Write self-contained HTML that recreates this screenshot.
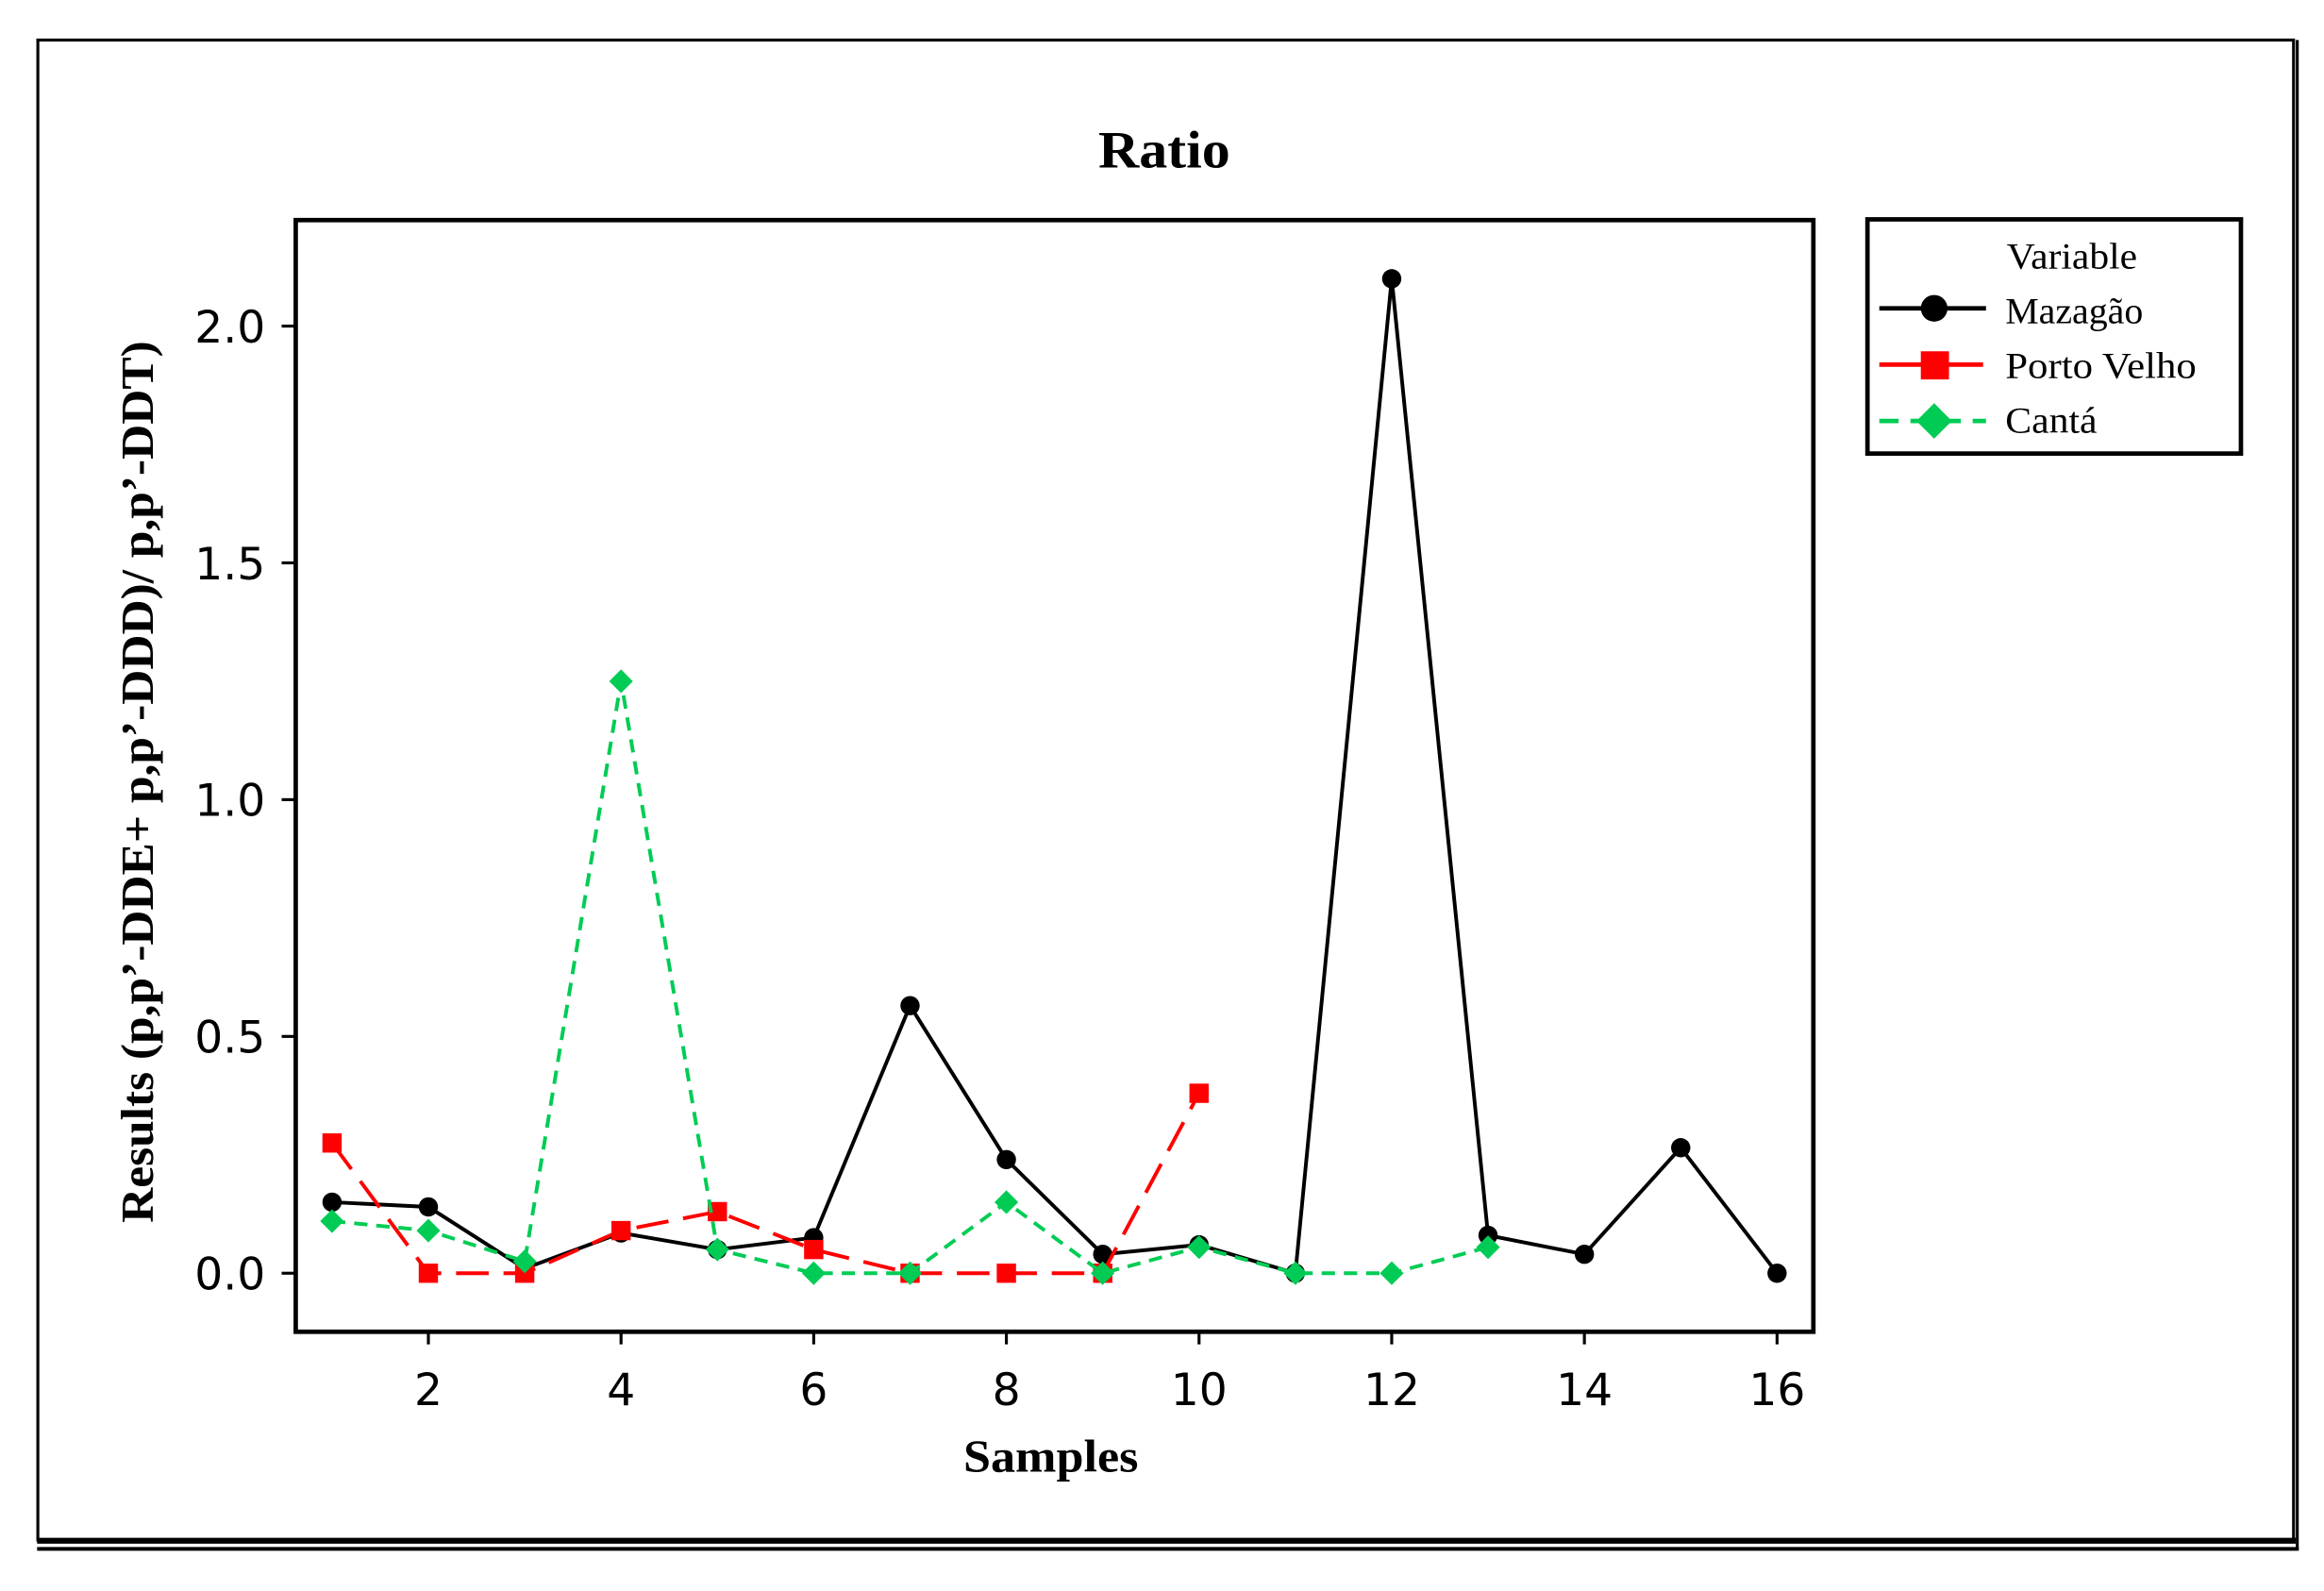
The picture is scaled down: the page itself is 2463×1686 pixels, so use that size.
<!DOCTYPE html>
<html><head><meta charset="utf-8"><style>
html,body{margin:0;padding:0;background:#fff;}
svg{display:block;}
</style></head><body>
<svg id="chart" width="2463" height="1686" viewBox="0 0 1568 1073.4" xmlns="http://www.w3.org/2000/svg">
<rect x="0" y="0" width="1568" height="1074" fill="#fff"/>
<rect x="25.5" y="27" width="1522" height="1012" fill="none" stroke="#000" stroke-width="2"/>
<line x1="25" y1="1039.5" x2="1549" y2="1039.5" stroke="#000" stroke-width="4"/>
<line x1="25" y1="1045" x2="1551" y2="1045" stroke="#000" stroke-width="2.5"/>
<line x1="1550" y1="27" x2="1550" y2="1046" stroke="#000" stroke-width="2"/>
<text x="741" y="113" textLength="89" lengthAdjust="spacingAndGlyphs" font-family="Liberation Serif, serif" font-weight="bold" font-size="36">Ratio</text>
<rect x="199.5" y="148.5" width="1024" height="750" fill="none" stroke="#000" stroke-width="3"/>
<g id="axes"></g>
<g id="series"></g>
<text x="650" y="993" textLength="118" lengthAdjust="spacingAndGlyphs" font-family="Liberation Serif, serif" font-weight="bold" font-size="31">Samples</text>
<text transform="translate(103,825) rotate(-90)" textLength="595" lengthAdjust="spacingAndGlyphs" font-family="Liberation Serif, serif" font-weight="bold" font-size="31">Results (p,p’-DDE+ p,p’-DDD)/ p,p’-DDT)</text>
<g>
<rect x="1260" y="148" width="252" height="158" fill="#fff" stroke="#000" stroke-width="3"/>
<text x="1354" y="181" textLength="88" lengthAdjust="spacingAndGlyphs" font-family="Liberation Serif, serif" font-size="25">Variable</text>
<g>
<line x1="1268" y1="208" x2="1340" y2="208" stroke="#000" stroke-width="3"/>
<circle cx="1305" cy="208" r="9" fill="#000"/>
<text x="1353" y="218" textLength="93" lengthAdjust="spacingAndGlyphs" font-family="Liberation Serif, serif" font-size="25">Mazagão</text>
</g>
<g>
<line x1="1268" y1="246" x2="1338" y2="246" stroke="#f00" stroke-width="3"/>
<rect x="1296" y="237" width="19" height="19" fill="#f00"/>
<text x="1353" y="255" textLength="129" lengthAdjust="spacingAndGlyphs" font-family="Liberation Serif, serif" font-size="25">Porto Velho</text>
</g>
<g>
<line x1="1268" y1="284" x2="1340" y2="284" stroke="#00cc55" stroke-width="3" stroke-dasharray="13,8"/>
<polygon points="1305,272 1317,284 1305,296 1293,284" fill="#00cc55"/>
<text x="1353" y="292" textLength="62" lengthAdjust="spacingAndGlyphs" font-family="Liberation Serif, serif" font-size="25">Cantá</text>
</g>
</g>
</svg>
<script>
const samples = [1,2,3,4,5,6,7,8,9,10,11,12,13,14,15,16];
const mazagao = [0.15,0.14,0.01,0.085,0.05,0.075,0.565,0.24,0.04,0.06,0.0,2.1,0.08,0.04,0.265,0.0];
const portoVelho = [0.275,0,0,0.09,0.13,0.05,0,0,0,0.38];
const canta = [0.11,0.09,0.025,1.25,0.05,0,0,0.15,0,0.055,0,0,0.055];
const xTicks = [2,4,6,8,10,12,14,16];
const yTicks = [0,0.5,1.0,1.5,2.0];
const yTickLabels = ["0.0","0.5","1.0","1.5","2.0"];

const NS = "http://www.w3.org/2000/svg";
function xs(v){ return 224 + (v-1)*65; }
function ys(v){ return 859 - v*319.5; }
function mk(tag, attrs, parent){
  const e = document.createElementNS(NS, tag);
  for (const k in attrs) e.setAttribute(k, attrs[k]);
  parent.appendChild(e); return e;
}
const axes = document.getElementById('axes');
xTicks.forEach(function(t){
  const l = mk('line',{x1:xs(t),x2:xs(t),y1:898,y2:907,stroke:'#000','stroke-width':2},axes);
  
  
  const tx = mk('text',{x:xs(t),y:948,'text-anchor':'middle','font-family':'DejaVu Sans, sans-serif','font-size':30},axes);
  tx.textContent = t;
  
  
});
yTicks.forEach(function(t,i){
  const l = mk('line',{x1:190,x2:199,y1:ys(t),y2:ys(t),stroke:'#000','stroke-width':2},axes);
  
  
  const tx = mk('text',{x:179,y:ys(t)+11,'text-anchor':'end','font-family':'DejaVu Sans, sans-serif','font-size':30},axes);
  tx.textContent = yTickLabels[i];
  
  
});
const series = document.getElementById('series');
function drawSeries(vals, color, dash, shape, name){
  const g = mk('g',{},series);
  
  
  const pts = vals.map(function(v,i){ return xs(samples[i])+','+ys(v); }).join(' ');
  const pl = mk('polyline',{points:pts,fill:'none',stroke:color,'stroke-width':2.5,'stroke-dasharray':dash},g);
  
  
  vals.forEach(function(v,i){
    const x = xs(samples[i]), y = ys(v);
    let m;
    if (shape==='circle') m = mk('circle',{cx:x,cy:y,r:6.5,fill:color},g);
    else if (shape==='square') m = mk('rect',{x:x-6.5,y:y-6.5,width:13,height:13,fill:color},g);
    else m = mk('polygon',{points:(x)+','+(y-8)+' '+(x+8)+','+y+' '+x+','+(y+8)+' '+(x-8)+','+y,fill:color},g);
    
    
  });
}
drawSeries(mazagao,'#000','none','circle','mazagao');
drawSeries(portoVelho,'#f00','22,10','square','porto-velho');
drawSeries(canta,'#00cc55','9,6','diamond','canta');
</script>
</body></html>
